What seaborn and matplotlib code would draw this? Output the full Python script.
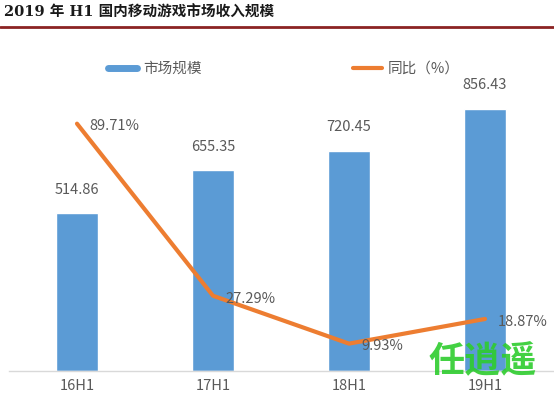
import numpy as np
import pandas as pd
import matplotlib
matplotlib.use("Agg")
import matplotlib.pyplot as plt
from matplotlib.lines import Line2D
import seaborn as sns

categories = ["16H1", "17H1", "18H1", "19H1"]
revenue = [514.86, 655.35, 720.45, 856.43]
yoy = [89.71, 27.29, 9.93, 18.87]
title = "2019 年 H1 国内移动游戏市场收入规模"
bar_label = "市场规模"
line_label = "同比（%）"

sns.set_theme(style="white")
plt.rcParams["font.family"] = ["Noto Sans CJK SC", "DejaVu Sans"]

BLUE = "#5B9BD5"
ORANGE = "#ED7D31"
GRAY = "#595959"

fig = plt.figure(figsize=(5.54, 3.99), dpi=100)
ax = fig.add_axes([9 / 554, 1 - 371 / 399, 544 / 554, 331 / 399])

df = pd.DataFrame({"cat": categories, "rev": revenue, "yoy": yoy})
sns.barplot(data=df, x="cat", y="rev", color=BLUE, width=0.31, saturation=1, ax=ax)
ax.set_ylim(0, 331 / 0.306)
ax.set_xlim(-0.5, 3.5)

for i, v in enumerate(revenue):
    ax.annotate(f"{v:.2f}", (i, v), xytext=(0, 12), textcoords="offset points",
                ha="center", va="bottom", fontsize=10.5, color=GRAY)

ax2 = ax.twinx()
sns.lineplot(x=np.arange(len(categories)), y=yoy, color=ORANGE, linewidth=3, ax=ax2)
ax2.set_ylim(0, 331 / 2.757)
for i, v in enumerate(yoy):
    ax2.annotate(f"{v:.2f}%", (i, v), xytext=(9, -2), textcoords="offset points",
                 ha="left", va="center", fontsize=10.5, color=GRAY)

for a in (ax, ax2):
    for s in ["top", "right", "left"]:
        a.spines[s].set_visible(False)
    a.set_yticks([])
    a.set_ylabel("")
ax2.spines["bottom"].set_visible(False)
ax.spines["bottom"].set_color("#D9D9D9")
ax.spines["bottom"].set_linewidth(1)
ax.set_xlabel("")
ax.tick_params(axis="x", length=0, labelsize=10.5, labelcolor=GRAY, pad=6)

handles = [Line2D([0], [0], color=BLUE, lw=5), Line2D([0], [0], color=ORANGE, lw=3)]
fig.legend(handles, [bar_label, line_label], loc="center", ncol=2,
           bbox_to_anchor=(284 / 554, 1 - 69 / 399), frameon=False,
           fontsize=10.5, labelcolor=GRAY, handlelength=2.0, columnspacing=10.4,
           handletextpad=0.4)

fig.text(4 / 554, 1 - 13 / 399, title, fontsize=10.5, fontweight="bold",
         family=["DejaVu Serif", "Noto Sans CJK SC"],
         color="#1a1a1a", ha="left", va="center")
fig.add_artist(Line2D([0, 1], [1 - 27 / 399, 1 - 27 / 399], color="#8B2323", lw=2))

fig.text(483 / 554, 1 - 362 / 399, "任逍遥", fontsize=26, fontweight="bold",
         color="#2ECC2E", ha="center", va="center", alpha=0.9)

fig.savefig("out.png", dpi=100)
